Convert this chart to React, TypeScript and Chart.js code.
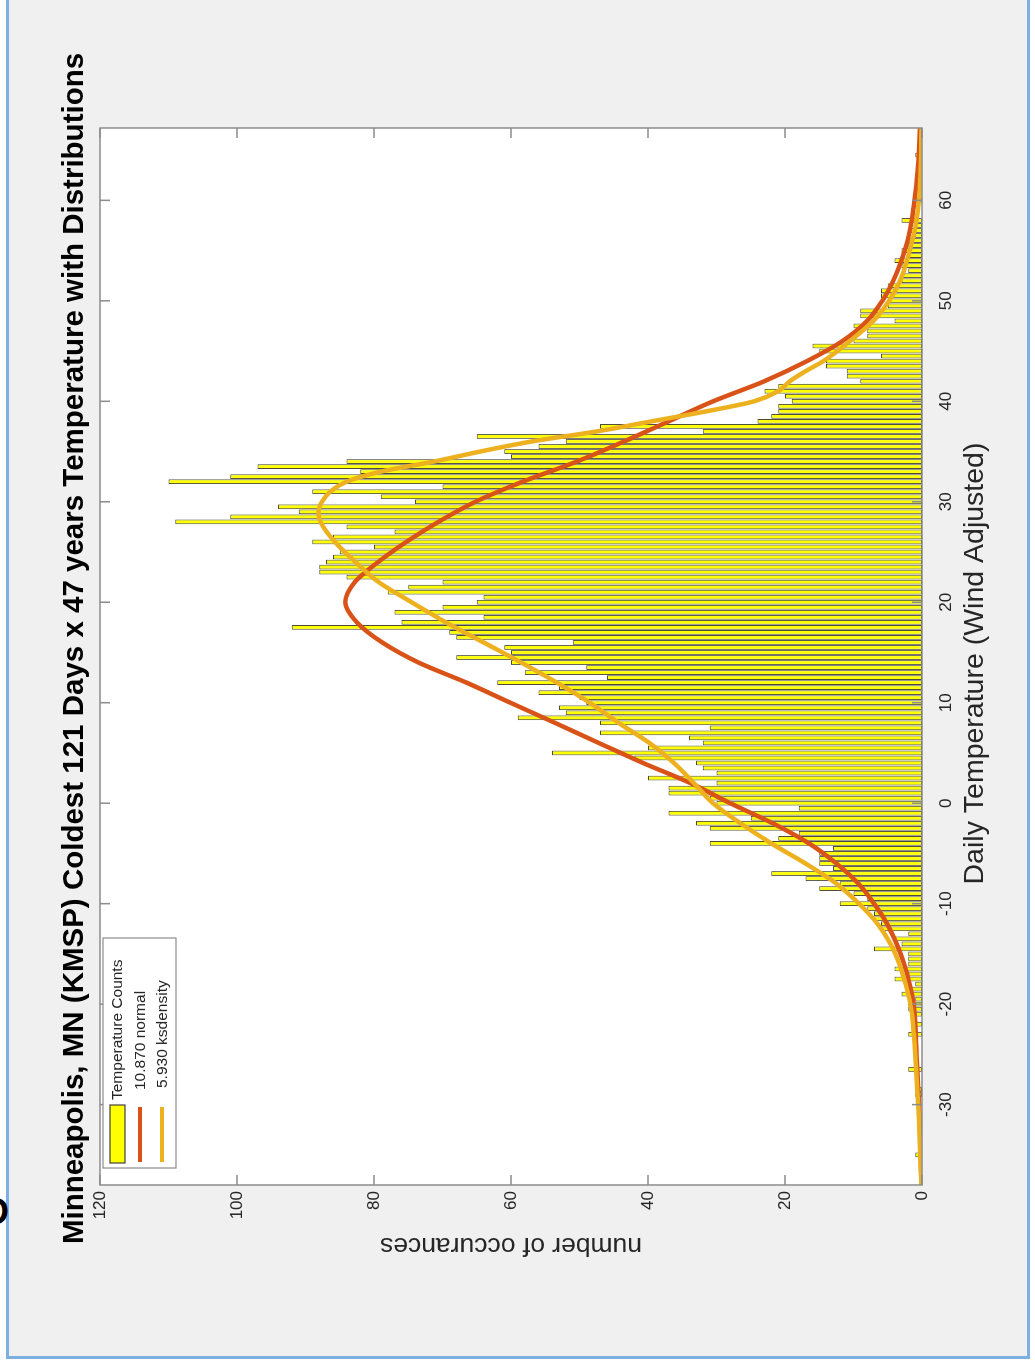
import React, { useEffect, useRef } from "react";
import { Chart, registerables } from "chart.js";

Chart.register(...registerables);

// ---------------- data ----------------
const titleText = "Minneapolis, MN (KMSP) Coldest 121 Days x 47 years Temperature with Distributions";
const xAxisTitle = "Daily Temperature (Wind Adjusted)";
const yAxisTitle = "number of occurances";
const legendLabels = ["Temperature Counts", "10.870 normal", "5.930 ksdensity"];

// histogram: bins of 0.5 degree, first bin centred on -37
const binStart = -37;
const binWidth = 0.5;
const binCounts = [
  0, 0, 0, 0, 1, 0, 0, 0, 0, 0,
  0, 0, 0, 0, 0, 0, 1, 1, 0, 0,
  0, 2, 0, 0, 0, 0, 0, 0, 2, 0,
  1, 0, 1, 2, 2, 1, 3, 2, 1, 4,
  2, 4, 2, 2, 2, 7, 3, 4, 2, 6,
  6, 7, 7, 8, 12, 8, 10, 15, 12, 17,
  22, 13, 15, 15, 15, 13, 31, 21, 18, 31,
  33, 25, 37, 18, 30, 31, 37, 37, 30, 40,
  30, 32, 33, 42, 54, 40, 32, 34, 47, 31,
  47, 59, 52, 53, 49, 50, 56, 53, 62, 46,
  58, 49, 60, 68, 60, 61, 51, 68, 69, 92,
  76, 64, 77, 70, 65, 64, 78, 75, 70, 84,
  88, 88, 87, 86, 85, 80, 89, 86, 77, 84,
  109, 101, 91, 94, 74, 79, 89, 70, 110, 101,
  82, 97, 84, 60, 61, 56, 52, 65, 32, 47,
  24, 22, 21, 21, 19, 20, 23, 21, 9, 11,
  11, 14, 14, 6, 15, 16, 10, 8, 8, 10,
  4, 9, 9, 5, 5, 6, 6, 5, 3, 3,
  2, 3, 4, 2, 3, 2, 2, 1, 2, 1,
  3, 0, 0, 0, 1, 0, 0, 0, 0, 0,
  0, 0, 0, 1, 0, 0, 0,
];

// fitted normal curve
const normalT = [-38, -33, -29, -25, -22, -20, -18, -16, -14, -12, -10, -8, -6, -4, -2, 0, 2, 4, 6, 8, 10, 12, 14, 16, 18, 20, 22, 24, 26, 28, 30, 32, 34, 36, 38, 40, 42, 44, 46, 48, 50, 52, 54, 56, 58, 60, 62, 64, 67.2];
const normalCounts = [0.08, 0.25, 0.5, 0.8, 1.0, 1.2, 1.8, 2.6, 3.7, 5.1, 7.0, 9.3, 12.5, 16.5, 21.8, 28, 33.8, 40.7, 47.2, 53.6, 60.1, 66.5, 73.5, 78.8, 82.5, 84.2, 82.8, 79.4, 75.3, 70.6, 65.2, 58.3, 50.4, 43.5, 37, 30.5, 23, 16.8, 11.6, 8.0, 5.8, 4.2, 3.0, 2.1, 1.5, 1.1, 0.75, 0.5, 0.3];

// kernel density curve
const ksT = [-38, -33, -29, -25, -22, -20, -18, -16, -14, -12, -10, -8, -6, -4, -2, 0, 2, 4, 6, 8, 10, 12, 14, 16, 18, 20, 22, 24, 26, 28, 29, 30, 31, 32, 33, 34, 35, 36, 37, 38, 39, 40, 41, 42, 43, 44, 46, 48, 50, 52, 54, 56, 58, 60, 62, 64, 67.2];
const ksCounts = [0.12, 0.35, 0.65, 1.0, 1.3, 1.7, 2.4, 3.3, 4.6, 6.5, 9.2, 12.5, 17, 22, 26.5, 30.5, 33.3, 36.2, 39.8, 44.3, 48.5, 53.3, 58.5, 64, 69.5, 74.5, 79.3, 82.7, 85.7, 87.8, 88.1, 87.6, 86.4, 84, 79, 71.3, 64.5, 57, 47.5, 39.5, 31.5, 24.5, 21, 19.3, 17, 14.4, 10.5, 7.1, 4.8, 3.2, 2.2, 1.4, 0.8, 0.45, 0.25, 0.15, 0.08];

const xMin = -38;
const xMax = 67.2;
const yMin = 0;
const yMax = 120;
const xStep = 10;
const yStep = 20;

// ---------------- styles ----------------
const FONT = "'Liberation Sans', Arial, Helvetica, sans-serif";
const BAR_FILL = "#ffff00";
const BAR_EDGE = "#4a4a3a";
const RED = "#d95319";
const ORANGE = "#edb120";
const AXIS = "#8c8c8c";
const TEXT = "#262626";

const W = 1370; // unrotated figure width
const H = 1035; // unrotated figure height

const decor = {
  id: "decor",
  beforeDraw(chart: any) {
    const { ctx, chartArea: a } = chart;
    ctx.save();
    ctx.fillStyle = "#ffffff";
    ctx.fillRect(a.left, a.top, a.right - a.left, a.bottom - a.top);
    ctx.restore();
  },
  afterDraw(chart: any) {
    const { ctx, chartArea: a, scales } = chart;
    const xs = scales.x;
    const ys = scales.y;
    ctx.save();
    // frame
    ctx.strokeStyle = AXIS;
    ctx.lineWidth = 1.5;
    ctx.strokeRect(a.left, a.top, a.right - a.left, a.bottom - a.top);
    // inward ticks on all four sides
    const tl = 10;
    ctx.beginPath();
    xs.ticks.forEach((t: any) => {
      const px = xs.getPixelForValue(t.value);
      ctx.moveTo(px, a.bottom);
      ctx.lineTo(px, a.bottom - tl);
      ctx.moveTo(px, a.top);
      ctx.lineTo(px, a.top + tl);
    });
    ys.ticks.forEach((t: any) => {
      const py = ys.getPixelForValue(t.value);
      ctx.moveTo(a.left, py);
      ctx.lineTo(a.left + tl, py);
      ctx.moveTo(a.right, py);
      ctx.lineTo(a.right - tl, py);
    });
    ctx.stroke();

    // title
    ctx.fillStyle = "#000000";
    ctx.font = `bold 29.5px ${FONT}`;
    ctx.textAlign = "center";
    ctx.textBaseline = "middle";
    ctx.fillText(titleText, (a.left + a.right) / 2 + 8, a.top - 25);

    // x axis title
    ctx.fillStyle = TEXT;
    ctx.font = `28.5px ${FONT}`;
    ctx.fillText(xAxisTitle, (a.left + a.right) / 2 - 7, a.bottom + 53);

    // y axis title (rotated)
    ctx.save();
    ctx.translate(a.left - 60, (a.top + a.bottom) / 2);
    ctx.rotate(-Math.PI / 2);
    ctx.font = `26.5px ${FONT}`;
    ctx.fillText(yAxisTitle, 0, 0);
    ctx.restore();

    // legend
    const lx = a.left + 17;
    const ly = a.top + 3;
    const lw = 230;
    const lh = 73;
    ctx.fillStyle = "#ffffff";
    ctx.fillRect(lx, ly, lw, lh);
    ctx.strokeStyle = AXIS;
    ctx.lineWidth = 1.2;
    ctx.strokeRect(lx, ly, lw, lh);
    // yellow patch
    ctx.fillStyle = BAR_FILL;
    ctx.fillRect(lx + 5, ly + 7, 58, 15);
    ctx.strokeStyle = "#404040";
    ctx.lineWidth = 1.2;
    ctx.strokeRect(lx + 5, ly + 7, 58, 15);
    // lines
    ctx.lineWidth = 4;
    ctx.strokeStyle = RED;
    ctx.beginPath();
    ctx.moveTo(lx + 6, ly + 37);
    ctx.lineTo(lx + 61, ly + 37);
    ctx.stroke();
    ctx.strokeStyle = ORANGE;
    ctx.beginPath();
    ctx.moveTo(lx + 6, ly + 59);
    ctx.lineTo(lx + 61, ly + 59);
    ctx.stroke();
    // labels
    ctx.fillStyle = TEXT;
    ctx.font = `15.5px ${FONT}`;
    ctx.textAlign = "left";
    ctx.textBaseline = "middle";
    ctx.fillText(legendLabels[0], lx + 68, ly + 15);
    ctx.fillText(legendLabels[1], lx + 78, ly + 38);
    ctx.fillText(legendLabels[2], lx + 80, ly + 60);
    ctx.restore();
  },
};

export default function App() {
  const canvasRef = useRef<HTMLCanvasElement | null>(null);

  useEffect(() => {
    const canvas = canvasRef.current;
    if (!canvas) return;
    const barData = binCounts.map((c, i) => ({ x: binStart + i * binWidth, y: c }));
    const normalData = normalT.map((t, i) => ({ x: t, y: normalCounts[i] }));
    const ksData = ksT.map((t, i) => ({ x: t, y: ksCounts[i] }));

    const chart = new Chart(canvas, {
      type: "bar",
      data: {
        datasets: [
          {
            type: "line",
            label: legendLabels[2],
            data: ksData,
            borderColor: ORANGE,
            borderWidth: 4.5,
            pointRadius: 0,
            cubicInterpolationMode: "monotone",
            fill: false,
            order: 1,
          } as any,
          {
            type: "line",
            label: legendLabels[1],
            data: normalData,
            borderColor: RED,
            borderWidth: 4.5,
            pointRadius: 0,
            cubicInterpolationMode: "monotone",
            fill: false,
            order: 2,
          } as any,
          {
            type: "bar",
            label: legendLabels[0],
            data: barData,
            backgroundColor: BAR_FILL,
            borderColor: BAR_EDGE,
            borderWidth: 1,
            borderSkipped: false,
            barPercentage: 0.95,
            categoryPercentage: 1.0,
            order: 3,
          } as any,
        ],
      },
      options: {
        responsive: false,
        animation: false,
        devicePixelRatio: 1,
        layout: { padding: { left: 125, right: 128, top: 100, bottom: 63 } },
        plugins: {
          legend: { display: false },
          tooltip: { enabled: false },
          title: { display: false },
        },
        scales: {
          x: {
            type: "linear",
            min: xMin,
            max: xMax,
            offset: false,
            grid: { display: false, drawTicks: false },
            border: { display: false },
            ticks: {
              stepSize: xStep,
              includeBounds: false,
              padding: 14,
              color: TEXT,
              font: { family: FONT, size: 17 },
              maxRotation: 0,
              autoSkip: false,
            },
            afterFit: (s: any) => {
              s.height = 50;
            },
          },
          y: {
            type: "linear",
            min: yMin,
            max: yMax,
            grid: { display: false, drawTicks: false },
            border: { display: false },
            ticks: {
              stepSize: yStep,
              padding: 6,
              color: TEXT,
              font: { family: FONT, size: 17 },
            },
            afterFit: (s: any) => {
              s.width = 60;
            },
          },
        },
      } as any,
      plugins: [decor],
    });
    return () => chart.destroy();
  }, []);

  return (
    <div
      style={{
        position: "absolute",
        left: 0,
        top: 0,
        width: 1035,
        height: 1370,
        overflow: "hidden",
        background: "#ffffff",
      }}
    >
      <div
        style={{
          position: "absolute",
          left: 6,
          top: -4,
          width: 1024,
          height: 1363,
          boxSizing: "border-box",
          borderLeft: "3px solid #7db0e0",
          borderRight: "3px solid #7db0e0",
          borderBottom: "3px solid #7db0e0",
          background: "#f0f0f0",
        }}
      />
      <div
        style={{
          position: "absolute",
          left: -17,
          top: 1192,
          fontFamily: FONT,
          fontWeight: "bold",
          fontSize: 36,
          lineHeight: "40px",
          color: "#000000",
        }}
      >
        D
      </div>
      <div
        style={{
          position: "absolute",
          left: 0,
          top: 0,
          width: W,
          height: H,
          transformOrigin: "0 0",
          transform: `translateY(${W}px) rotate(-90deg)`,
        }}
      >
        <canvas ref={canvasRef} width={W} height={H} style={{ display: "block", width: W, height: H }} />
      </div>
    </div>
  );
}
